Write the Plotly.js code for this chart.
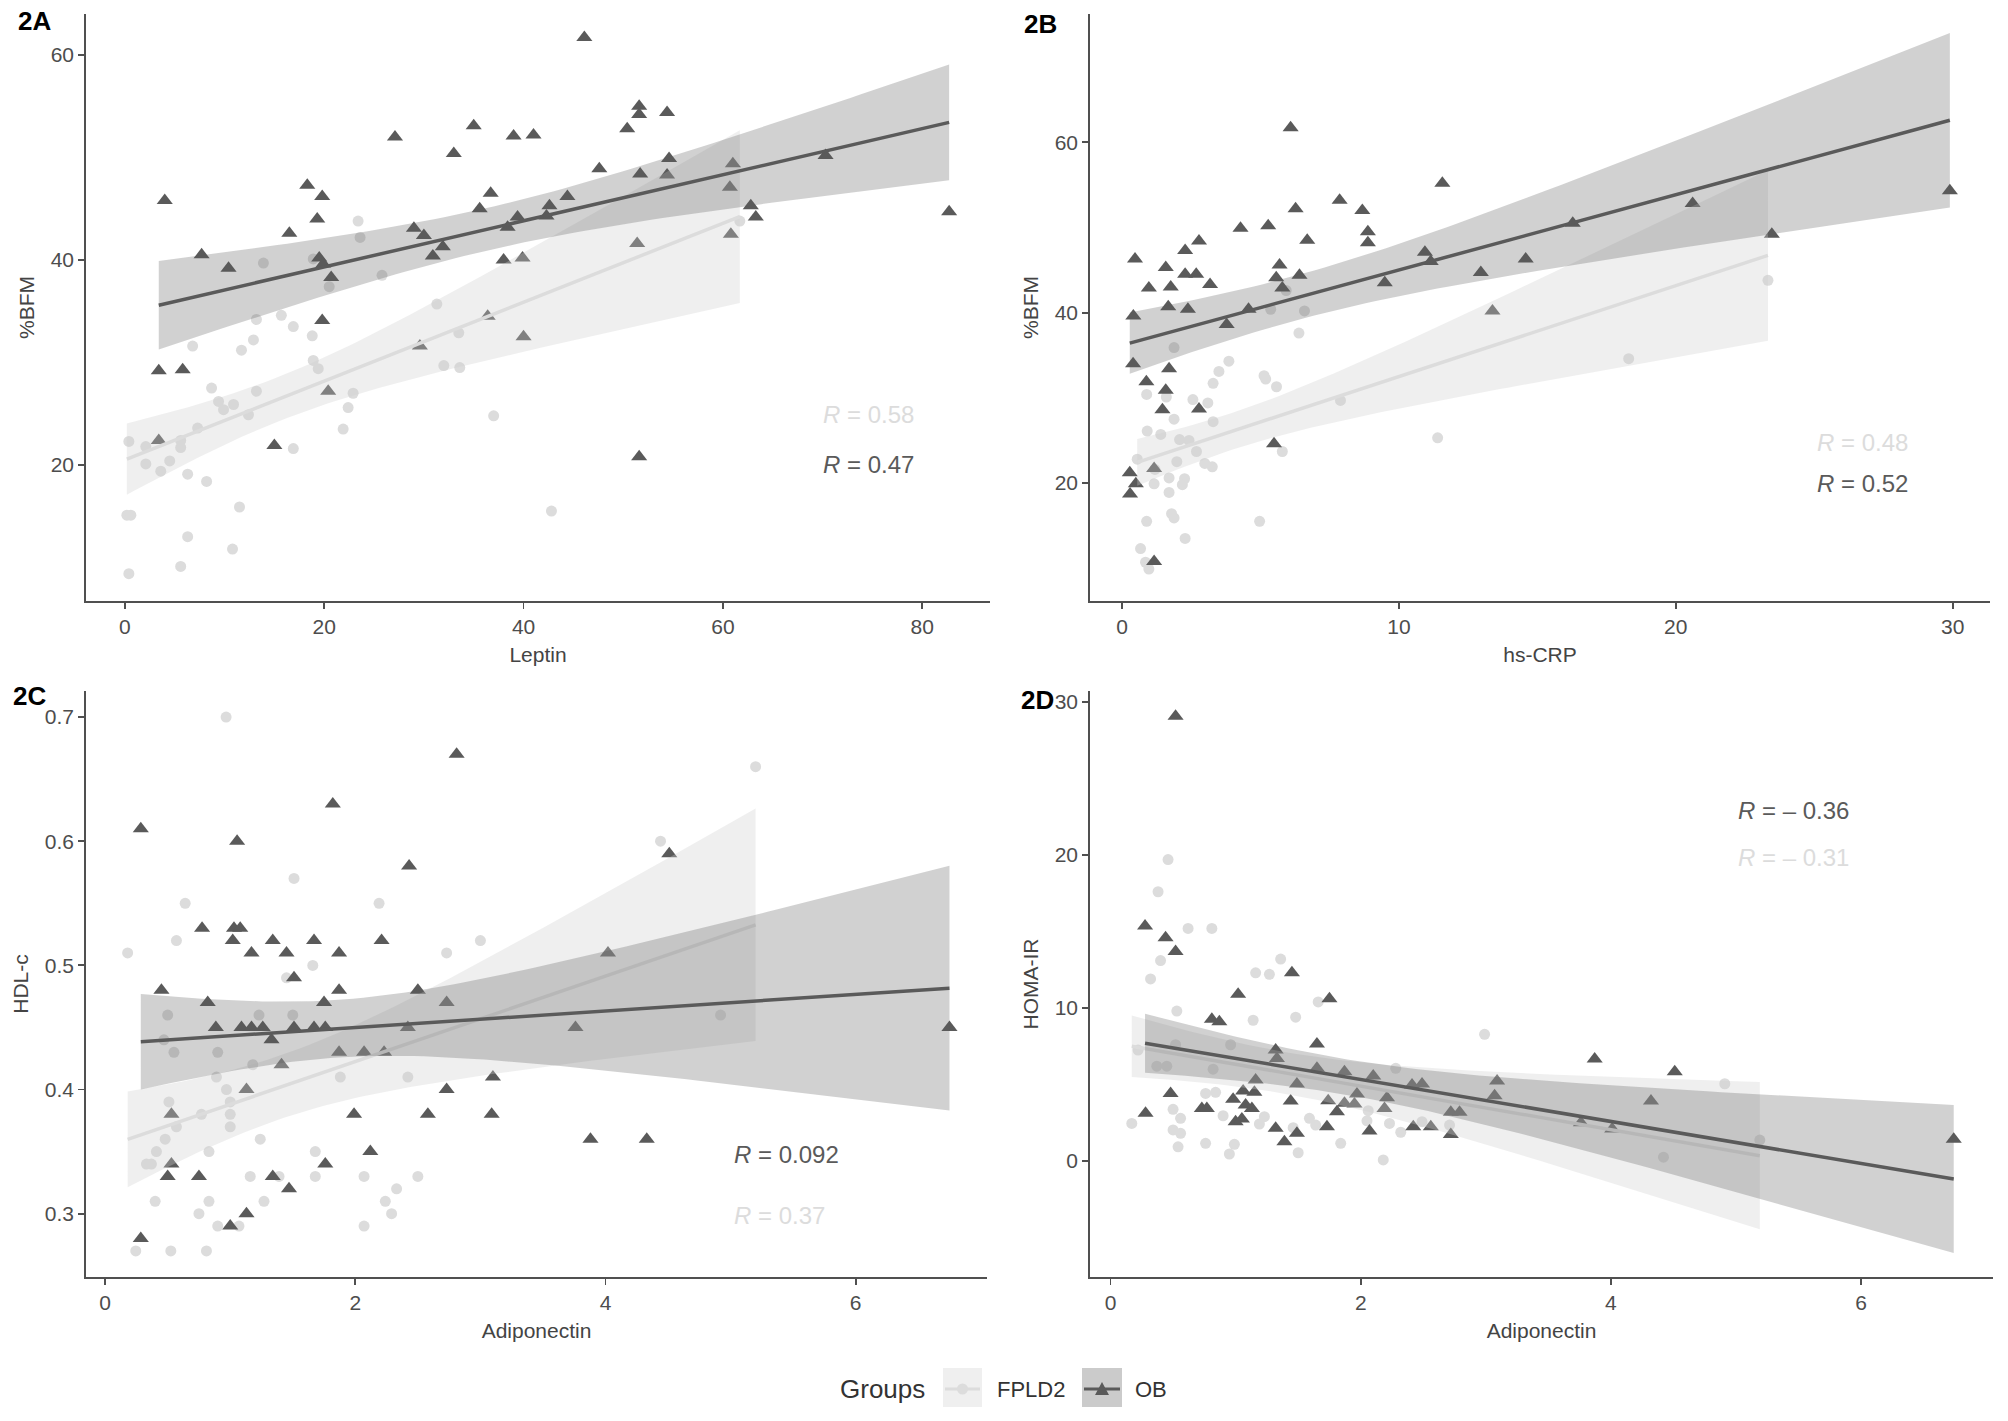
<!DOCTYPE html>
<html><head><meta charset="utf-8">
<script src="https://cdn.plot.ly/plotly-3.0.1.min.js"></script>
<style>html,body{margin:0;padding:0;background:#fff}#chart{width:2008px;height:1421px}</style>
</head><body><div id="chart"></div>
<script>
// ---------- Data ----------
// Panel 2A: Leptin vs %BFM
const A_ob_x = [46.1,4.0,7.7,10.4,3.4,5.8,3.4,15.0,18.3,19.8,19.3,16.5,19.5,19.9,20.7,19.8,20.4,27.1,29.0,30.0,30.9,31.9,33.0,29.6,35.0,35.6,36.7,36.4,38.0,38.4,39.4,39.0,41.0,39.9,40.0,42.6,42.3,44.4,47.6,50.4,51.6,51.6,54.4,54.6,51.7,54.4,51.4,51.6,61.0,60.7,60.8,62.8,63.3,70.3,82.7];
const A_ob_y = [61.7,45.8,40.5,39.2,29.2,29.3,22.4,21.9,47.3,46.2,44.0,42.6,40.2,39.6,38.3,34.1,27.2,52.0,43.1,42.4,40.4,41.3,50.4,31.6,53.1,45.0,46.5,34.5,40.0,43.2,44.2,52.1,52.2,40.2,32.5,45.3,44.3,46.2,48.9,52.8,55.0,54.2,54.4,49.9,48.4,48.3,41.6,20.8,49.4,47.1,42.5,45.3,44.2,50.2,44.7];
const A_fp_x = [23.4,23.6,13.9,18.9,20.5,25.8,31.3,13.2,15.7,16.9,18.8,12.9,11.7,6.8,33.5,18.9,19.4,32.0,33.6,8.7,13.2,22.9,9.4,9.9,10.9,12.4,22.4,21.9,7.3,5.6,5.6,0.4,2.1,16.9,2.1,3.6,4.5,6.3,8.2,37.0,0.2,0.6,11.5,42.8,6.3,10.8,5.6,0.4,61.7];
const A_fp_y = [43.8,42.2,39.7,40.1,37.4,38.5,35.7,34.2,34.6,33.5,32.6,32.2,31.2,31.6,32.9,30.2,29.4,29.7,29.5,27.5,27.2,27.0,26.2,25.4,25.9,24.9,25.6,23.5,23.6,22.4,21.7,22.3,21.8,21.6,20.1,19.4,20.4,19.1,18.4,24.8,15.1,15.1,15.9,15.5,13.0,11.8,10.1,9.4,43.8];

// Panel 2B: hs-CRP vs %BFM
const B_ob_x = [6.09,7.86,6.27,8.68,4.28,5.28,8.88,8.88,6.69,2.78,2.28,0.47,1.58,2.28,2.68,3.18,5.69,5.57,6.41,5.79,9.49,0.97,1.76,1.67,2.38,4.57,0.41,3.78,0.40,1.70,0.88,1.58,1.46,2.78,5.49,1.16,0.28,0.50,0.29,1.16,11.57,10.94,11.15,12.96,13.38,14.58,16.28,20.61,23.47,29.9];
const B_ob_y = [61.7,53.2,52.2,52.0,49.9,50.2,49.5,48.2,48.5,48.4,47.3,46.3,45.3,44.5,44.5,43.3,45.6,44.1,44.4,42.9,43.5,42.9,43.0,40.7,40.4,40.4,39.6,38.6,34.0,33.4,31.9,30.9,28.6,28.7,24.6,21.7,21.2,19.9,18.7,10.8,55.2,47.1,46.0,44.7,40.2,46.3,50.5,52.8,49.2,54.3];
const B_fp_x = [5.37,6.59,6.39,1.88,3.86,3.50,3.29,5.13,5.19,5.58,7.89,0.89,1.60,2.56,3.1,1.88,3.29,0.91,1.40,2.08,2.42,0.55,1.19,1.98,2.69,2.99,3.26,5.79,1.70,1.16,2.26,2.18,1.70,1.79,1.88,0.89,4.97,2.28,0.67,0.85,0.97,23.33,18.3,11.4,5.93];
const B_fp_y = [40.4,40.2,37.6,35.9,34.3,33.1,31.7,32.6,32.2,31.3,29.7,30.4,30.1,29.8,29.4,27.5,27.2,26.1,25.7,25.1,25.0,22.8,21.6,22.5,23.7,22.3,21.9,23.7,20.6,19.9,20.5,19.8,18.9,16.4,15.9,15.5,15.5,13.5,12.3,10.7,9.9,43.8,34.6,25.3,42.6];

// Panel 2C: Adiponectin vs HDL-c
const C_ob_x = [2.81,1.82,0.285,1.055,2.43,0.775,1.03,1.08,1.02,1.34,1.67,2.21,1.17,1.45,1.87,1.51,0.45,1.87,2.50,0.82,1.75,2.73,0.885,1.09,1.17,1.26,1.51,1.67,1.76,1.33,2.42,1.87,2.07,2.23,1.41,1.13,0.53,3.10,2.73,1.99,2.58,3.09,2.12,0.53,0.50,0.75,1.34,1.76,1.47,1.13,1.0,0.285,4.51,4.02,3.76,3.88,4.33,6.75];
const C_ob_y = [0.67,0.63,0.61,0.60,0.58,0.53,0.53,0.53,0.52,0.52,0.52,0.52,0.51,0.51,0.51,0.49,0.48,0.48,0.48,0.47,0.47,0.47,0.45,0.45,0.45,0.45,0.45,0.45,0.45,0.44,0.45,0.43,0.43,0.43,0.42,0.40,0.38,0.41,0.40,0.38,0.38,0.38,0.35,0.34,0.33,0.33,0.33,0.34,0.32,0.30,0.29,0.28,0.59,0.51,0.45,0.36,0.36,0.45];
const C_fp_x = [0.967,1.51,0.64,2.19,0.57,0.18,3.00,2.73,1.66,1.45,0.50,1.23,1.50,0.47,0.55,0.90,1.18,0.89,1.88,2.42,0.97,0.51,1.0,0.77,1.0,0.57,1.0,0.48,1.24,0.41,0.83,1.68,0.33,0.37,1.16,1.39,1.68,2.07,2.50,2.33,0.40,0.83,1.27,2.24,0.75,2.29,0.90,1.07,2.07,0.245,0.525,0.81,5.20,4.44,4.92];
const C_fp_y = [0.70,0.57,0.55,0.55,0.52,0.51,0.52,0.51,0.50,0.49,0.46,0.46,0.46,0.44,0.43,0.43,0.42,0.41,0.41,0.41,0.40,0.39,0.39,0.38,0.38,0.37,0.37,0.36,0.36,0.35,0.35,0.35,0.34,0.34,0.33,0.33,0.33,0.33,0.33,0.32,0.31,0.31,0.31,0.31,0.30,0.30,0.29,0.29,0.29,0.27,0.27,0.27,0.66,0.60,0.46];

// Panel 2D: Adiponectin vs HOMA-IR
const D_ob_x = [0.276,0.44,0.52,1.45,1.02,1.75,0.81,0.87,1.65,1.32,1.33,1.65,1.87,2.10,2.41,2.49,3.09,3.07,1.16,1.49,0.48,0.28,0.73,0.77,0.98,1.06,1.15,1.08,1.13,1.44,1.0,1.05,1.32,1.39,1.49,1.74,1.81,1.87,1.95,2.19,1.97,2.21,1.73,2.07,2.42,2.56,2.72,2.72,2.79,0.52,3.87,4.51,4.32,6.74,3.76,4.01];
const D_ob_y = [15.36,14.6,13.7,12.3,10.9,10.6,9.26,9.1,7.65,7.25,6.7,6.06,5.84,5.56,4.97,5.03,5.23,4.27,5.29,5.03,4.42,3.12,3.44,3.44,4.03,4.58,4.5,3.66,3.44,3.92,2.57,2.75,2.14,1.26,1.81,3.94,3.22,3.77,3.72,3.44,4.38,4.14,2.24,1.96,2.24,2.24,1.74,3.18,3.18,29.07,6.67,5.84,3.93,1.43,2.5,2.1];
const D_fp_x = [0.46,0.38,0.62,0.81,0.40,0.32,1.36,1.16,1.27,1.66,0.53,1.14,1.48,2.99,0.96,0.22,0.52,0.37,0.45,0.82,2.28,0.76,0.84,0.50,0.56,0.17,0.50,0.56,0.54,0.76,0.90,0.99,0.95,1.19,1.23,1.46,1.50,1.59,1.64,1.84,2.06,2.05,2.18,2.23,2.32,2.49,2.71,4.91,5.19,4.42];
const D_fp_y = [19.7,17.6,15.2,15.2,13.1,11.9,13.2,12.3,12.2,10.4,9.8,9.2,9.4,8.28,7.6,7.25,7.6,6.2,6.2,6.0,6.06,4.42,4.49,3.38,2.79,2.46,2.03,1.81,0.93,1.16,2.96,1.09,0.46,2.42,2.9,2.18,0.54,2.79,2.35,1.16,3.29,2.63,0.07,2.46,1.88,2.57,2.35,5.05,1.37,0.25];

const groups = ["FPLD2", "OB"];
const panelLabels = ["2A", "2B", "2C", "2D"];
const xTitles = ["Leptin", "hs-CRP", "Adiponectin", "Adiponectin"];
const yTitles = ["%BFM", "%BFM", "HDL-c", "HOMA-IR"];
const rLabels = [["R = 0.58", "R = 0.47"], ["R = 0.48", "R = 0.52"], ["R = 0.37", "R = 0.092"], ["R = – 0.31", "R = – 0.36"]];

// ---------- Styles ----------
const FONT = '"Liberation Sans", Arial, Helvetica, sans-serif';
const COL_FP = '#dcdcdc', COL_OB = '#5a5a5a';
const RIB_FP = 'rgba(205,205,205,0.33)', RIB_OB = 'rgba(90,90,90,0.28)';
const AXC = '#505050', TICKC = '#4d4d4d', TITLEC = '#444444';

// ---------- Linear fit with 95% CI (like geom_smooth(method = "lm")) ----------
function tq(df) { const z = 1.959964; return z + (z**3 + z)/(4*df) + (5*z**5 + 16*z**3 + 3*z)/(96*df*df); }
function lmFit(x, y) {
  const n = x.length;
  const mx = x.reduce((a,b)=>a+b,0)/n, my = y.reduce((a,b)=>a+b,0)/n;
  let sxx = 0, sxy = 0;
  for (let i=0;i<n;i++){ sxx += (x[i]-mx)**2; sxy += (x[i]-mx)*(y[i]-my); }
  const b = sxy/sxx, a = my - b*mx;
  let rss = 0; for (let i=0;i<n;i++) rss += (y[i] - a - b*x[i])**2;
  const s = Math.sqrt(rss/(n-2)), t = tq(n-2);
  const lo = Math.min(...x), hi = Math.max(...x);
  const xs = [], f = [], up = [], dn = [];
  for (let k=0;k<=80;k++){
    const xv = lo + (hi-lo)*k/80;
    const yv = a + b*xv;
    const se = s*Math.sqrt(1/n + (xv-mx)**2/sxx);
    xs.push(xv); f.push(yv); up.push(yv + t*se); dn.push(yv - t*se);
  }
  return {xs, f, up, dn};
}

const panels = [
  {fx:A_fp_x, fy:A_fp_y, ox:A_ob_x, oy:A_ob_y},
  {fx:B_fp_x, fy:B_fp_y, ox:B_ob_x, oy:B_ob_y},
  {fx:C_fp_x, fy:C_fp_y, ox:C_ob_x, oy:C_ob_y},
  {fx:D_fp_x, fy:D_fp_y, ox:D_ob_x, oy:D_ob_y}
];

const traces = [];
panels.forEach((p, i) => {
  const xa = i === 0 ? 'x' : 'x' + (i+1), ya = i === 0 ? 'y' : 'y' + (i+1);
  traces.push({type:'scatter', mode:'markers', x:p.fx, y:p.fy, xaxis:xa, yaxis:ya, name:groups[0], showlegend:false,
    marker:{symbol:'circle', size:11, color:COL_FP}, hoverinfo:'x+y'});
  traces.push({type:'scatter', mode:'markers', x:p.ox, y:p.oy, xaxis:xa, yaxis:ya, name:groups[1], showlegend:false,
    marker:{symbol:'triangle-up', size:14, color:COL_OB}, hoverinfo:'x+y'});
  [[p.fx, p.fy, RIB_FP, COL_FP, 0], [p.ox, p.oy, RIB_OB, COL_OB, 1]].forEach(([gx, gy, rib, col, g]) => {
    const r = lmFit(gx, gy);
    traces.push({type:'scatter', mode:'lines', x:r.xs.concat(r.xs.slice().reverse()), y:r.up.concat(r.dn.slice().reverse()),
      xaxis:xa, yaxis:ya, fill:'toself', fillcolor:rib, line:{width:0}, showlegend:false, hoverinfo:'skip', name:groups[g]});
    traces.push({type:'scatter', mode:'lines', x:r.xs, y:r.f, xaxis:xa, yaxis:ya, line:{color:col, width:3.5},
      showlegend:false, hoverinfo:'skip', name:groups[g]});
  });
});

// ---------- Layout ----------
const W = 2008, H = 1421;
const px = v => v / W, py = v => 1 - v / H;
function axis(dom, rng, tv, title, extra) {
  return Object.assign({
    domain: dom, range: rng, tickvals: tv, showgrid:false, zeroline:false,
    showline:true, linecolor:AXC, linewidth:1.8, ticks:'outside', ticklen:6, tickwidth:1.8, tickcolor:AXC,
    tickfont:{family:FONT, size:21, color:TICKC}, fixedrange:true,
    title:{text:title, font:{family:FONT, size:21, color:TITLEC}, standoff:10}, automargin:false
  }, extra || {});
}
const rowTop = [py(601), py(14)], rowBot = [py(1277), py(691)];
const layout = {
  width: W, height: H, margin:{l:0, r:0, t:0, b:0}, paper_bgcolor:'#fff', plot_bgcolor:'rgba(0,0,0,0)',
  showlegend:false, font:{family:FONT},
  xaxis:  axis([px(86), px(990)],  [-3.9, 86.8],  [0,20,40,60,80], xTitles[0], {anchor:'y'}),
  yaxis:  axis(rowTop, [6.73, 64.0], [20,40,60], yTitles[0], {anchor:'x'}),
  xaxis2: axis([px(1090), px(1990)], [-1.156, 31.35], [0,10,20,30], xTitles[1], {anchor:'y2'}),
  yaxis2: axis(rowTop, [6.15, 75.06], [20,40,60], yTitles[1], {anchor:'x2'}),
  xaxis3: axis([px(86), px(987)], [-0.153, 7.05], [0,2,4,6], xTitles[2], {anchor:'y3'}),
  yaxis3: axis(rowBot, [0.249, 0.721], [0.3,0.4,0.5,0.6,0.7], yTitles[2], {anchor:'x3'}),
  xaxis4: axis([px(1090), px(1993)], [-0.164, 7.054], [0,2,4,6], xTitles[3], {anchor:'y4'}),
  yaxis4: axis(rowBot, [-7.58, 30.72], [0,10,20,30], yTitles[3], {anchor:'x4'}),
  annotations: [], shapes: []
};

// panel labels
[[34,21],[1040,24],[29,696],[1037,700]].forEach((c, i) => {
  layout.annotations.push({xref:'paper', yref:'paper', x:px(c[0]), y:py(c[1]), xanchor:'center', yanchor:'middle',
    text:'<b>' + panelLabels[i] + '</b>', showarrow:false, font:{family:FONT, size:26, color:'#000'}});
});
// correlation labels: [x, yFPLD2, yOB]
const rPos = [[821, 414.5, 465], [1815, 442, 484], [732, 1215, 1154], [1736, 857, 810]];
rPos.forEach((c, i) => {
  [[rLabels[i][0], c[1], COL_FP], [rLabels[i][1], c[2], COL_OB]].forEach(([t, yy, col]) => {
    layout.annotations.push({xref:'paper', yref:'paper', x:px(c[0]), y:py(yy), xanchor:'left', yanchor:'middle',
      text: t.replace(/^R/, '<i>R</i>'), showarrow:false, font:{family:FONT, size:24, color:col}});
  });
});

// legend (manual, bottom centre)
const LY = 1389;
layout.annotations.push({xref:'paper', yref:'paper', x:px(838), y:py(LY), xanchor:'left', yanchor:'middle',
  text:'Groups', showarrow:false, font:{family:FONT, size:26, color:'#333'}});
layout.annotations.push({xref:'paper', yref:'paper', x:px(995), y:py(LY), xanchor:'left', yanchor:'middle',
  text:groups[0], showarrow:false, font:{family:FONT, size:22, color:'#333'}});
layout.annotations.push({xref:'paper', yref:'paper', x:px(1133), y:py(LY), xanchor:'left', yanchor:'middle',
  text:groups[1], showarrow:false, font:{family:FONT, size:22, color:'#333'}});
layout.shapes.push(
  {type:'rect', xref:'paper', yref:'paper', x0:px(943), x1:px(982), y0:py(1407), y1:py(1368), fillcolor:'#efefef', line:{width:0}},
  {type:'line', xref:'paper', yref:'paper', x0:px(945), x1:px(980), y0:py(LY), y1:py(LY), line:{color:COL_FP, width:3}},
  {type:'circle', xref:'paper', yref:'paper', x0:px(957), x1:px(968), y0:py(1394.5), y1:py(1383.5), fillcolor:COL_FP, line:{width:0}},
  {type:'rect', xref:'paper', yref:'paper', x0:px(1082), x1:px(1122), y0:py(1407), y1:py(1368), fillcolor:'#cbcbcb', line:{width:0}},
  {type:'line', xref:'paper', yref:'paper', x0:px(1084), x1:px(1120), y0:py(LY), y1:py(LY), line:{color:COL_OB, width:3}},
  {type:'path', xref:'paper', yref:'paper',
   path:'M' + px(1095) + ',' + py(1395) + ' L' + px(1109) + ',' + py(1395) + ' L' + px(1102) + ',' + py(1382) + ' Z',
   fillcolor:COL_OB, line:{width:0}}
);

Plotly.newPlot('chart', traces, layout, {displayModeBar:false, staticPlot:true});
</script>
</body></html>
